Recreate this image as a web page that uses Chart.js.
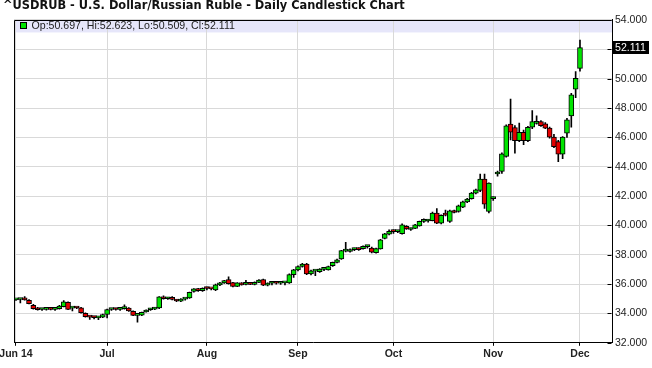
<!DOCTYPE html>
<html>
<head>
<meta charset="utf-8">
<script src="https://cdn.jsdelivr.net/npm/chart.js@4.4.1/dist/chart.umd.min.js"></script>
<style>
  html, body { margin: 0; padding: 0; background: #fff; }
</style>
</head>
<body>
<canvas id="chart" width="652" height="368"></canvas>
<script>
// daily candles, Jun 2 2014 .. Dec 1 2014 (trading day index 0..130)
const open = [
  34.93, 34.95, 34.97, 34.90, 34.56, 34.38, 34.27, 34.28, 34.30, 34.28,
  34.33, 34.47, 34.75, 34.36, 34.38, 34.38, 34.00, 33.78, 33.74, 33.70, 33.75,
  33.93, 34.27, 34.29, 34.28, 34.33, 34.36, 34.15, 33.87, 33.88, 34.10,
  34.25, 34.30, 34.38, 35.13, 35.00, 35.10, 34.90, 34.84, 34.98, 35.05,
  35.50, 35.67, 35.56,
  35.72, 35.68, 35.60, 35.95, 36.08, 36.30, 36.10, 35.85, 36.08, 35.98,
  36.08, 35.98, 36.12, 36.30, 35.93, 36.06, 36.08, 36.06, 36.08, 36.08, 36.65,
  36.97, 37.21, 37.37, 36.70, 36.88, 36.85, 37.00, 36.97, 37.26, 37.48,
  37.71, 38.25, 38.22, 38.35, 38.40, 38.42, 38.55, 38.46, 38.15, 38.40,
  39.11, 39.41,
  39.60, 39.58, 39.43, 39.93, 39.72, 39.80, 39.97, 40.27, 40.30, 40.32,
  40.84, 40.16, 40.80, 40.27, 41.00, 40.95, 41.25, 41.60, 41.82, 42.20,
  42.38, 43.15, 40.95,
  41.82, 43.50, 43.68, 44.70, 46.90, 46.67, 45.78, 46.35, 45.78, 46.69,
  46.95, 47.07, 46.92, 46.63, 46.01, 45.71, 44.86, 46.29, 47.46, 49.28,
  50.697
];
const high = [
  34.98, 35.00, 35.15, 34.95, 34.62, 34.42, 34.33, 34.36, 34.38, 34.33,
  34.55, 34.88, 34.80, 34.42, 34.42, 34.42, 34.05, 33.82, 33.80, 33.78, 33.95,
  34.30, 34.32, 34.35, 34.36, 34.58, 34.40, 34.18, 33.90, 34.10, 34.25,
  34.35, 34.40, 35.15, 35.20, 35.10, 35.15, 34.95, 35.02, 35.05, 35.46,
  35.70, 35.72, 35.75,
  35.80, 35.72, 36.00, 36.12, 36.26, 36.49, 36.12, 36.10, 36.10, 36.26,
  36.10, 36.15, 36.30, 36.35, 36.08, 36.12, 36.14, 36.12, 36.15, 36.70, 37.00,
  37.25, 37.42, 37.42, 36.95, 36.95, 37.05, 37.08, 37.22, 37.50, 37.70,
  38.30, 38.85, 38.40, 38.45, 38.48, 38.60, 38.65, 38.52, 38.45, 39.05,
  39.46, 39.70,
  39.70, 39.66, 40.10, 39.98, 39.82, 40.08, 40.30, 40.45, 40.40, 40.90,
  41.15, 40.72, 41.05, 41.05, 41.05, 41.38, 41.65, 41.85, 42.25, 42.48,
  43.50, 43.50, 42.90,
  41.95, 43.70, 44.95, 46.85, 48.60, 46.80, 46.97, 46.50, 46.75, 47.83,
  47.46, 47.15, 47.00, 46.70, 46.20, 45.80, 46.05, 47.30, 49.00, 50.48,
  52.623
];
const low = [
  34.88, 34.72, 34.90, 34.65, 34.30, 34.22, 34.20, 34.22, 34.24, 34.20,
  34.30, 34.45, 34.25, 34.18, 34.33, 34.02, 33.75, 33.60, 33.62, 33.58, 33.72,
  33.70, 34.20, 34.22, 34.20, 34.30, 34.14, 33.85, 33.40, 33.85, 34.08,
  34.20, 34.26, 34.33, 34.98, 34.95, 34.93, 34.80, 34.80, 34.90, 35.03,
  35.45, 35.50, 35.50,
  35.60, 35.60, 35.55, 35.90, 36.05, 36.00, 35.80, 35.82, 35.93, 35.95,
  35.96, 35.95, 36.10, 35.90, 35.88, 35.95, 36.00, 35.98, 35.95, 36.05, 36.45,
  36.90, 37.15, 36.65, 36.62, 36.58, 36.80, 36.92, 36.95, 37.20, 37.45,
  37.68, 38.20, 38.18, 38.28, 38.30, 38.38, 38.45, 38.12, 38.10, 38.38,
  39.08, 39.35,
  39.45, 39.50, 39.40, 39.72, 39.66, 39.78, 39.95, 40.20, 40.22, 40.30,
  40.12, 40.10, 40.65, 40.20, 40.85, 40.90, 41.20, 41.55, 41.78, 42.15,
  42.30, 41.15, 40.85,
  41.70, 43.35, 43.55, 44.65, 45.83, 44.93, 45.70, 45.50, 45.70, 46.60,
  46.90, 46.75, 46.60, 45.95, 45.30, 44.35, 44.54, 46.00, 46.70, 48.70,
  50.509
];
const close = [
  34.95, 34.97, 34.92, 34.67, 34.32, 34.25, 34.28, 34.30, 34.28, 34.30,
  34.50, 34.79, 34.28, 34.38, 34.37, 34.05, 33.78, 33.75, 33.72, 33.73, 33.92,
  34.27, 34.29, 34.27, 34.33, 34.38, 34.17, 33.87, 33.88, 34.08, 34.22,
  34.30, 34.33, 35.13, 35.00, 35.05, 34.95, 34.85, 34.98, 35.02, 35.44,
  35.67, 35.55, 35.72,
  35.70, 35.67, 35.95, 36.08, 36.24, 36.03, 35.85, 36.08, 35.95, 36.00,
  35.98, 36.12, 36.27, 35.93, 36.05, 36.08, 36.06, 36.08, 36.10, 36.65, 36.97,
  37.20, 37.37, 36.70, 36.90, 36.90, 37.03, 37.02, 37.20, 37.48, 37.66,
  38.28, 38.30, 38.35, 38.37, 38.35, 38.57, 38.57, 38.17, 38.42, 39.02,
  39.43, 39.59,
  39.58, 39.60, 40.04, 39.76, 39.80, 40.04, 40.27, 40.30, 40.32, 40.84,
  40.16, 40.69, 40.70, 41.00, 40.88, 41.34, 41.60, 41.80, 42.20, 42.43,
  43.15, 41.45, 42.88,
  41.82, 43.52, 44.88, 46.78, 46.35, 45.78, 46.35, 45.78, 46.68, 47.07,
  47.07, 46.80, 46.63, 46.01, 45.37, 44.86, 46.01, 47.19, 48.89, 50.03,
  52.111
];

// month ticks (trading day index) and their labels
const tickIndex = [0, 21, 44, 65, 87, 110, 130];
const tickLabels = ['Jun 14', 'Jul', 'Aug', 'Sep', 'Oct', 'Nov', 'Dec'];

const title = '^USDRUB - U.S. Dollar/Russian Ruble - Daily Candlestick Chart';
const UP = '#00e400', DOWN = '#e40000';

const last = close.length - 1;
const bodies = open.map((o, i) => ({ x: i, y: [o, close[i]] }));
const wicks = low.map((l, i) => ({ x: i, y: [l, high[i]] }));
const bodyColors = open.map((o, i) => close[i] >= o ? UP : DOWN);

const decor = {
  id: 'decor',
  beforeDraw(chart) {
    const { ctx, chartArea: a } = chart;
    ctx.save();
    ctx.fillStyle = '#e6e6fa';
    ctx.fillRect(a.left, a.top, a.right - a.left, 12.5);
    ctx.restore();
  },
  afterDraw(chart) {
    const { ctx, chartArea: a } = chart;
    const y = chart.scales.y;
    ctx.save();
    ctx.strokeStyle = '#000';
    ctx.lineWidth = 1;
    const L = Math.round(a.left) + 0.5, T = Math.round(a.top) + 0.5;
    const R = Math.round(a.right) - 0.5, B = Math.round(a.bottom) - 0.5;
    ctx.beginPath();
    ctx.moveTo(L, B); ctx.lineTo(L, T); ctx.lineTo(R, T);
    ctx.stroke();
    // short ticks inside the right axis
    y.ticks.forEach(t => {
      const py = Math.round(y.getPixelForValue(t.value)) + 0.5;
      ctx.beginPath();
      ctx.moveTo(R - 4, py); ctx.lineTo(R, py);
      ctx.stroke();
    });
    // legend line in the band
    ctx.fillStyle = UP;
    ctx.fillRect(20.5, 22.5, 6, 6);
    ctx.strokeRect(20.5, 22.5, 6, 6);
    ctx.fillStyle = '#222';
    ctx.font = '10.6px "Liberation Sans", Arial, sans-serif';
    ctx.textBaseline = 'middle';
    ctx.textAlign = 'left';
    ctx.fillText('Op:' + open[last].toFixed(3) + ', Hi:' + high[last].toFixed(3) +
      ', Lo:' + low[last].toFixed(3) + ', Cl:' + close[last].toFixed(3), 31.5, 26);
    // last price marker
    const py = y.getPixelForValue(close[last]);
    ctx.fillStyle = '#000';
    ctx.fillRect(a.right + 1, Math.round(py - 6.5), 36, 13);
    ctx.fillStyle = '#fff';
    ctx.fillText(close[last].toFixed(3), a.right + 3, py + 0.5);
    ctx.restore();
  }
};

new Chart(document.getElementById('chart'), {
  type: 'bar',
  data: {
    datasets: [
      {
        data: bodies,
        backgroundColor: bodyColors,
        borderColor: '#000',
        borderWidth: 1,
        borderSkipped: false,
        barThickness: 5,
        minBarLength: 2,
        grouped: false,
        order: 0
      },
      {
        data: wicks,
        backgroundColor: '#000',
        borderWidth: 0,
        barThickness: 1,
        grouped: false,
        order: 1
      }
    ]
  },
  options: {
    responsive: false,
    animation: false,
    layout: { padding: { left: 3, top: 0, right: 0, bottom: 0 } },
    plugins: {
      legend: { display: false },
      tooltip: { enabled: false },
      title: {
        display: true,
        text: title,
        align: 'start',
        color: '#111',
        font: { family: '"DejaVu Sans", sans-serif', size: 11.4, weight: 'bold', lineHeight: 1 },
        padding: { top: 0, bottom: 8.55 }
      }
    },
    scales: {
      x: {
        type: 'linear',
        min: -0.461,
        max: 137.38,
        offset: false,
        grid: { color: '#d9d9d9', offset: false, tickColor: '#000', tickLength: 3 },
        border: { color: '#000' },
        afterBuildTicks: (scale) => { scale.ticks = tickIndex.map(v => ({ value: v })); },
        afterFit: (scale) => { scale.paddingLeft = 14; scale.paddingRight = 0; scale.height = 25.2; },
        ticks: {
          autoSkip: false,
          maxRotation: 0,
          minRotation: 0,
          padding: 2,
          color: '#222',
          font: { family: '"Liberation Sans", Arial, sans-serif', size: 10.5, weight: 'bold' },
          callback: (v, i) => tickLabels[i]
        }
      },
      y: {
        position: 'right',
        min: 32,
        max: 54,
        grid: { color: '#d9d9d9', drawTicks: false },
        border: { color: '#000' },
        afterFit: (scale) => { scale.width = 40; },
        ticks: {
          stepSize: 2,
          padding: 3,
          color: '#222',
          font: { family: '"Liberation Sans", Arial, sans-serif', size: 10.5 },
          callback: (v) => Math.abs(v - close[last]) < 1 ? '' : v.toFixed(3)
        }
      }
    }
  },
  plugins: [decor]
});
</script>
</body>
</html>
